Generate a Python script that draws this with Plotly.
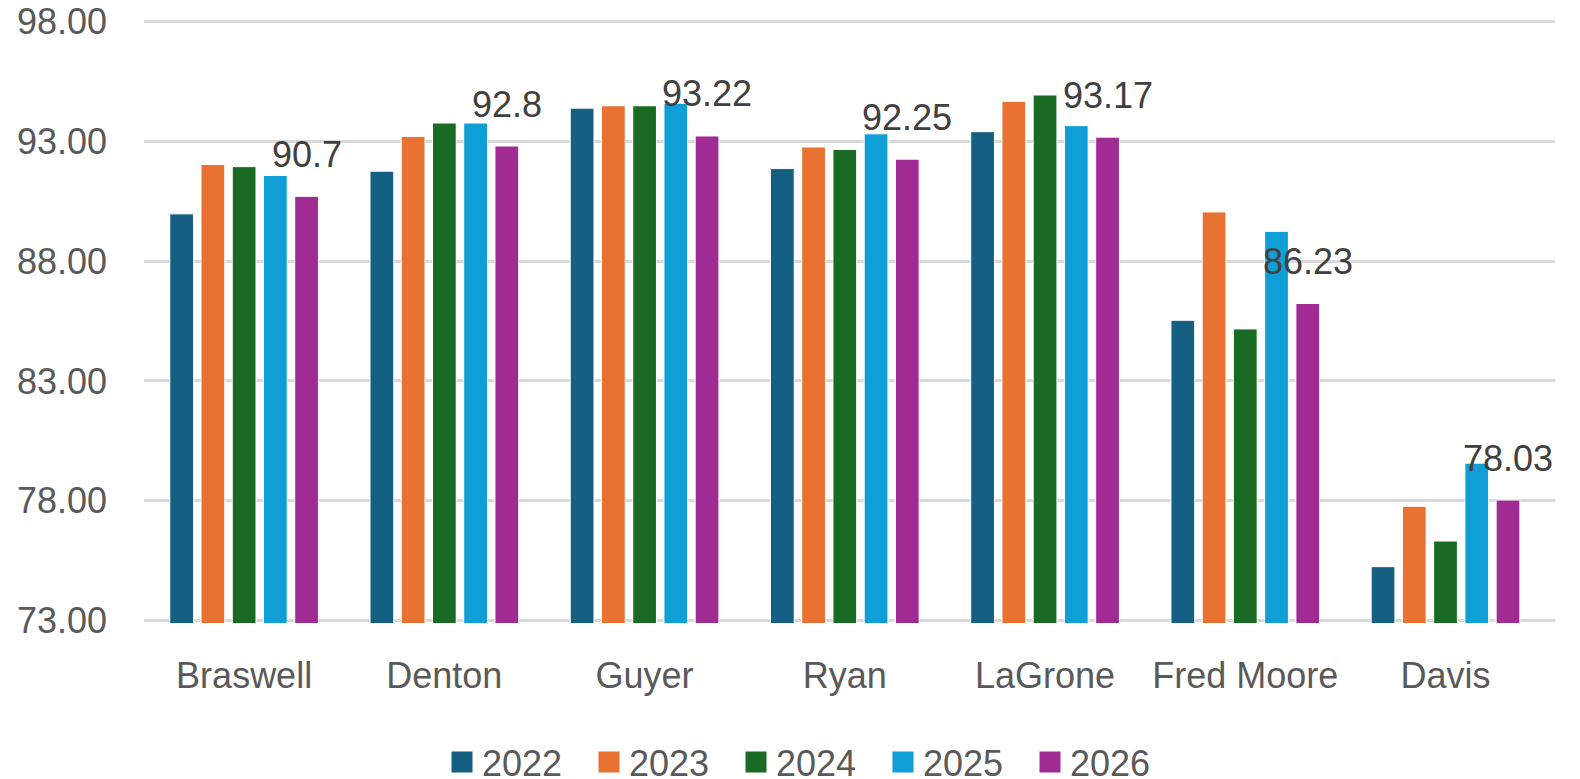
import plotly.graph_objects as go

categories = ["Braswell", "Denton", "Guyer", "Ryan", "LaGrone", "Fred Moore", "Davis"]
years = ["2022", "2023", "2024", "2025", "2026"]
v2022 = [89.97, 91.75, 94.38, 91.86, 93.40, 85.53, 75.25]
v2023 = [92.03, 93.20, 94.48, 92.76, 94.66, 90.05, 77.77]
v2024 = [91.94, 93.76, 94.48, 92.66, 94.93, 85.17, 76.32]
v2025 = [91.57, 93.76, 94.58, 93.31, 93.65, 89.24, 79.57]
v2026 = [90.70, 92.80, 93.22, 92.25, 93.17, 86.23, 78.03]

series = [v2022, v2023, v2024, v2025, v2026]
colors = ["#156082", "#E97132", "#196B24", "#0F9ED5", "#A02B93"]

FONT = "Liberation Sans, Arial, sans-serif"
bargap = 0.22
bargroupgap = 0.24

# the page body has an 8px default margin, so the figure is 8px smaller
W, H = 1572, 771

fig = go.Figure()
for name, vals, col in zip(years, series, colors):
    fig.add_trace(go.Bar(
        x=categories, y=vals, name=name, showlegend=False, legendgroup=name,
        marker=dict(color=col, line=dict(color="white", width=1)),
    ))
# legend entries (larger square swatches)
for name, col in zip(years, colors):
    fig.add_trace(go.Scatter(
        x=[None], y=[None], name=name, mode="markers", legendgroup=name,
        marker=dict(symbol="square", size=16, color=col, line=dict(color=col, width=5)),
    ))

# data labels for the 2026 series, centred on the 2026 bar
n = len(years)
slot = (1 - bargap) / n
for i, val in enumerate(v2026):
    fig.add_annotation(
        x=i - (1 - bargap) / 2 + slot * (n - 0.5), y=val, xref="x", yref="y",
        text=f"{val:g}", showarrow=False, yanchor="middle", yshift=42,
        font=dict(family=FONT, size=36, color="#404040"),
    )

fig.update_layout(
    width=W, height=H,
    margin=dict(l=136, r=25, t=11, b=156),
    barmode="group", bargap=bargap, bargroupgap=bargroupgap,
    plot_bgcolor="white", paper_bgcolor="white",
    font=dict(family=FONT, size=36, color="#595959"),
    showlegend=True,
    legend=dict(orientation="h", xref="container", yref="container",
                x=801.5 / W, xanchor="center", y=17 / H, yanchor="middle",
                font=dict(family=FONT, size=36, color="#595959"),
                entrywidth=102, entrywidthmode="pixels", tracegroupgap=0),
    xaxis=dict(showgrid=False, showline=False, ticks="", ticklabelstandoff=28,
               automargin=False, tickfont=dict(family=FONT, size=36, color="#595959")),
    yaxis=dict(range=[72.9, 98.1], tickvals=[73, 78, 83, 88, 93, 98], tickformat=".2f",
               showgrid=True, gridcolor="#D9D9D9", gridwidth=3,
               zeroline=False, showline=False, ticks="", ticklabelstandoff=36,
               ticklabeloverflow="allow",
               automargin=False, tickfont=dict(family=FONT, size=36, color="#595959")),
)

fig.write_html("out.html")
